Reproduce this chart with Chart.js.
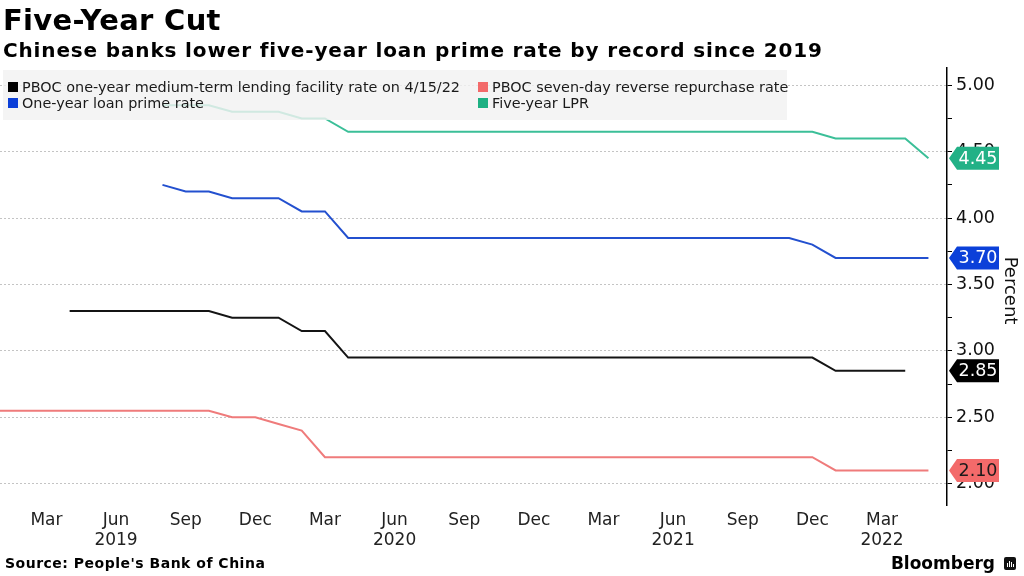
<!DOCTYPE html>
<html lang="en">
<head>
<meta charset="UTF-8">
<title>Five-Year Cut</title>
<script src="https://cdn.jsdelivr.net/npm/chart.js"></script>
<style>
  body { margin: 0; width: 1024px; height: 576px; position: relative; overflow: hidden; background: #fff; font-family: "DejaVu Sans", sans-serif; color: #000; }
  #chart { position: absolute; left: 0; top: 0; }
  h1 { position: absolute; left: 3px; top: 6px; margin: 0; font-size: 29px; line-height: 1; font-weight: bold; letter-spacing: 0.3px; }
  h2 { position: absolute; left: 3px; top: 40px; margin: 0; font-size: 20px; line-height: 1; font-weight: bold; letter-spacing: 0.85px; }
  #source { position: absolute; left: 5px; top: 556px; font-size: 14px; line-height: 1; font-weight: bold; letter-spacing: 0.5px; }
  #brand { position: absolute; right: 29px; top: 555px; font-size: 17px; line-height: 1; font-weight: bold; }
  #logo { position: absolute; left: 1004px; top: 557px; width: 12px; height: 13px; background: #111; border-radius: 2px; }
  #logo i { position: absolute; bottom: 3px; width: 1px; background: #fff; }
</style>
</head>
<body>
<canvas id="chart" width="1024" height="576"></canvas>
<h1>Five-Year Cut</h1>
<h2>Chinese banks lower five-year loan prime rate by record since 2019</h2>
<div id="source">Source: People's Bank of China</div>
<div id="brand">Bloomberg</div>
<div id="logo"><i style="left:3px;height:4px"></i><i style="left:5px;height:6px"></i><i style="left:7px;height:5px"></i><i style="left:9px;height:3px"></i></div>

<script>
// months, Jan 2019 .. May 2022
const months = [
  'Jan 2019','Feb 2019','Mar 2019','Apr 2019','May 2019','Jun 2019','Jul 2019','Aug 2019','Sep 2019','Oct 2019','Nov 2019','Dec 2019',
  'Jan 2020','Feb 2020','Mar 2020','Apr 2020','May 2020','Jun 2020','Jul 2020','Aug 2020','Sep 2020','Oct 2020','Nov 2020','Dec 2020',
  'Jan 2021','Feb 2021','Mar 2021','Apr 2021','May 2021','Jun 2021','Jul 2021','Aug 2021','Sep 2021','Oct 2021','Nov 2021','Dec 2021',
  'Jan 2022','Feb 2022','Mar 2022','Apr 2022','May 2022'
];

// series (percent), one value per month
const mlf = [
  null, null, null, 3.30, 3.30, 3.30, 3.30, 3.30, 3.30, 3.30, 3.25, 3.25,
  3.25, 3.15, 3.15, 2.95, 2.95, 2.95, 2.95, 2.95, 2.95, 2.95, 2.95, 2.95,
  2.95, 2.95, 2.95, 2.95, 2.95, 2.95, 2.95, 2.95, 2.95, 2.95, 2.95, 2.95,
  2.85, 2.85, 2.85, 2.85, null
];
const reverseRepo = [
  2.55, 2.55, 2.55, 2.55, 2.55, 2.55, 2.55, 2.55, 2.55, 2.55, 2.50, 2.50,
  2.45, 2.40, 2.20, 2.20, 2.20, 2.20, 2.20, 2.20, 2.20, 2.20, 2.20, 2.20,
  2.20, 2.20, 2.20, 2.20, 2.20, 2.20, 2.20, 2.20, 2.20, 2.20, 2.20, 2.20,
  2.10, 2.10, 2.10, 2.10, 2.10
];
const lpr1y = [
  null, null, null, null, null, null, null, 4.25, 4.20, 4.20, 4.15, 4.15,
  4.15, 4.05, 4.05, 3.85, 3.85, 3.85, 3.85, 3.85, 3.85, 3.85, 3.85, 3.85,
  3.85, 3.85, 3.85, 3.85, 3.85, 3.85, 3.85, 3.85, 3.85, 3.85, 3.85, 3.80,
  3.70, 3.70, 3.70, 3.70, 3.70
];
const lpr5y = [
  null, null, null, null, null, null, null, 4.85, 4.85, 4.85, 4.80, 4.80,
  4.80, 4.75, 4.75, 4.65, 4.65, 4.65, 4.65, 4.65, 4.65, 4.65, 4.65, 4.65,
  4.65, 4.65, 4.65, 4.65, 4.65, 4.65, 4.65, 4.65, 4.65, 4.65, 4.65, 4.65,
  4.60, 4.60, 4.60, 4.60, 4.45
];

const seriesNames = [
  'PBOC one-year medium-term lending facility rate on 4/15/22',
  'PBOC seven-day reverse repurchase rate',
  'One-year loan prime rate',
  'Five-year LPR'
];

// x axis ticks
const xTickMonths = ['Mar 2019','Jun 2019','Sep 2019','Dec 2019','Mar 2020','Jun 2020','Sep 2020','Dec 2020','Mar 2021','Jun 2021','Sep 2021','Dec 2021','Mar 2022'];
const xTickLabels = [['Mar'],['Jun','2019'],['Sep'],['Dec'],['Mar'],['Jun','2020'],['Sep'],['Dec'],['Mar'],['Jun','2021'],['Sep'],['Dec'],['Mar','2022']];
// y axis ticks
const yTicks = [2.00, 2.25, 2.50, 2.75, 3.00, 3.25, 3.50, 3.75, 4.00, 4.25, 4.50, 4.75, 5.00];

const lineColors = ['#141414', '#ef7b7b', '#2350cf', '#3bbf98'];
const keyColors  = ['#000000', '#f36a6a', '#0b3fd8', '#1db082'];
const tagColors  = ['#000000', '#f36a6a', '#0b40d9', '#22b186'];
const tagText    = ['#ffffff', '#1a1a1a', '#ffffff', '#ffffff'];

function toPoints(arr) {
  return arr.map((v, i) => ({ x: i, y: v }));
}

const allSeries = [mlf, reverseRepo, lpr1y, lpr5y];

const legendBox = {
  id: 'legendBox',
  afterDatasetsDraw(chart) {
    const c = chart.ctx;
    c.save();
    c.fillStyle = 'rgba(242,242,242,0.82)';
    c.fillRect(3, 70, 784, 50);
    c.font = '14.4px "DejaVu Sans"';
    c.textBaseline = 'middle';
    const pos = [[8, 87], [478, 87], [8, 103], [478, 103]];
    seriesNames.forEach((name, i) => {
      const [x, y] = pos[i];
      c.fillStyle = keyColors[i];
      c.fillRect(x, y - 5, 10, 10);
      c.fillStyle = '#1a1a1a';
      c.fillText(name, x + 14, y + 1);
    });
    c.restore();
  }
};

const valueTags = {
  id: 'valueTags',
  afterDraw(chart) {
    const c = chart.ctx;
    const ys = chart.scales.y;
    const x0 = chart.chartArea.right + 2;
    c.save();
    c.font = '17.5px "DejaVu Sans"';
    c.textAlign = 'center';
    c.textBaseline = 'middle';
    allSeries.forEach((arr, i) => {
      let v = null;
      for (let k = arr.length - 1; k >= 0; k--) { if (arr[k] !== null) { v = arr[k]; break; } }
      const y = ys.getPixelForValue(v);
      c.fillStyle = tagColors[i];
      c.beginPath();
      c.moveTo(x0, y);
      c.lineTo(x0 + 8, y - 11.5);
      c.lineTo(x0 + 50, y - 11.5);
      c.lineTo(x0 + 50, y + 11.5);
      c.lineTo(x0 + 8, y + 11.5);
      c.closePath();
      c.fill();
      c.fillStyle = tagText[i];
      c.fillText(v.toFixed(2), x0 + 29, y + 1);
    });
    // axis title
    c.translate(1010, (chart.chartArea.top + chart.chartArea.bottom) / 2 + 4);
    c.rotate(Math.PI / 2);
    c.fillStyle = '#111';
    c.font = '18px "DejaVu Sans"';
    c.fillText('Percent', 0, 0);
    c.restore();
  }
};

new Chart(document.getElementById('chart'), {
  type: 'line',
  data: {
    datasets: allSeries.map((arr, i) => ({
      label: seriesNames[i],
      data: toPoints(arr),
      borderColor: lineColors[i],
      borderWidth: 2,
      pointRadius: 0,
      tension: 0,
      spanGaps: false
    }))
  },
  options: {
    responsive: false,
    animation: false,
    layout: { padding: { top: 68, left: 0, right: 0, bottom: 0 } },
    plugins: { legend: { display: false }, tooltip: { enabled: false } },
    scales: {
      x: {
        type: 'linear',
        min: 0,
        max: 40.8,
        afterBuildTicks: (s) => { s.ticks = xTickMonths.map(m => ({ value: months.indexOf(m) })); },
        afterFit: (s) => { s.height = 71; },
        grid: { display: false, drawTicks: false },
        border: { display: false },
        ticks: {
          autoSkip: false,
          maxRotation: 0,
          padding: 5,
          color: '#222',
          font: { family: 'DejaVu Sans', size: 17, lineHeight: 1.2 },
          callback: (v, i) => xTickLabels[i]
        }
      },
      y: {
        position: 'right',
        min: 1.84,
        max: 5.13,
        afterBuildTicks: (s) => { s.ticks = yTicks.map(v => ({ value: v })); },
        afterFit: (s) => { s.width = 77; },
        grid: {
          color: (ctx) => (Math.round(ctx.tick.value * 100) % 50 === 0 ? '#c4c4c4' : 'rgba(0,0,0,0)'),
          lineWidth: 1,
          tickColor: '#000',
          tickLength: 5,
          tickWidth: 1
        },
        border: { display: true, color: '#000', width: 1.5, dash: [2, 2] },
        ticks: {
          padding: 4,
          color: '#111',
          font: { family: 'DejaVu Sans', size: 17.5 },
          callback: (v) => (Math.round(v * 100) % 50 === 0 ? v.toFixed(2) : '')
        }
      }
    }
  },
  plugins: [legendBox, valueTags]
});
</script>
</body>
</html>
